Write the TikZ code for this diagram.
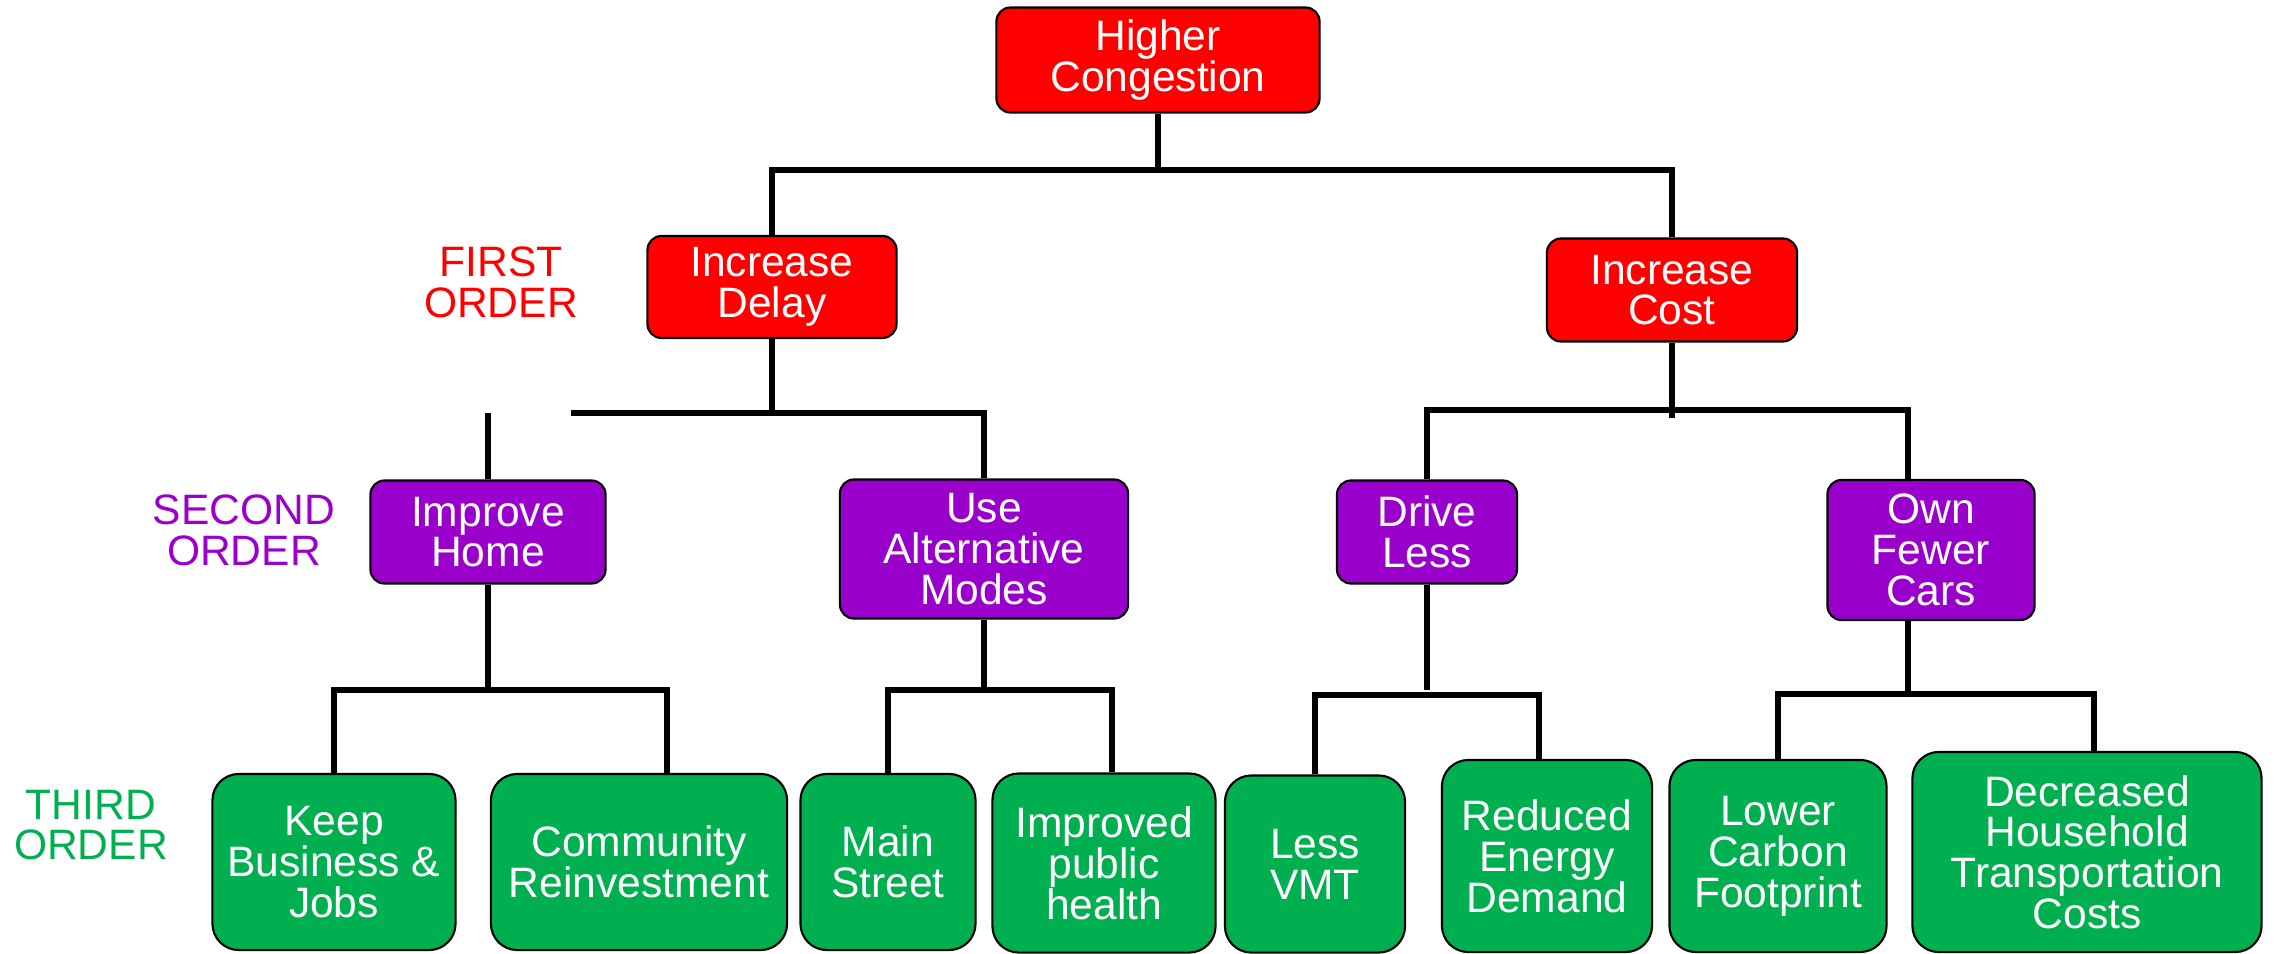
\documentclass[tikz,border=0pt]{standalone}
\usepackage{fontspec}
\setmainfont{Liberation Sans}
\usepackage{tikz}
\definecolor{congred}{RGB}{255, 0, 0}
\definecolor{orderpurple}{RGB}{153, 0, 204}
\definecolor{ordergreen}{RGB}{0, 176, 80}
\tikzstyle{block} = [rectangle, draw, line width=0.6pt, text=white,
    align=center, inner sep=0pt, font=\fontsize{12.1}{11.6}\selectfont]
\tikzstyle{firstblock} = [block, fill=congred, rounded corners=4pt]
\tikzstyle{secondblock} = [block, fill=orderpurple, rounded corners=4pt]
\tikzstyle{thirdblock} = [block, fill=ordergreen, rounded corners=7.5pt]
\tikzstyle{levellabel} = [align=center, font=\fontsize{12.1}{11.6}\selectfont]
\tikzstyle{line} = [draw, line width=1.7pt]

\begin{document}
\begin{tikzpicture}[x=0.01cm, y=-0.01cm]
  \useasboundingbox (0,0) rectangle (2274,954);
  % top and first order
  \node [firstblock, minimum width=3.23cm, minimum height=1.05cm] (congestion) at (1158,60) {Higher\\Congestion};
  \node [levellabel, text=congred] (firstorder) at (501,282) {FIRST\\ORDER};
  \node [firstblock, minimum width=2.49cm, minimum height=1.02cm] (delay) at (772,287) {Increase\\Delay};
  \node [firstblock, minimum width=2.5cm, minimum height=1.03cm] (cost) at (1672,290) {Increase\\Cost};
  \coordinate (topbus) at (0,170);
  \path [line] (congestion.south) -- (congestion.south |- topbus);
  \path [line] (delay.north) -- (delay.north |- topbus) -- (cost.north |- topbus) -- (cost.north);
  % second order
  \node [levellabel, text=orderpurple] (secondorder) at (244,530) {SECOND\\ORDER};
  \node [secondblock, minimum width=2.35cm, minimum height=1.03cm] (home) at (488,532) {Improve\\Home};
  \node [secondblock, minimum width=2.88cm, minimum height=1.39cm] (modes) at (984,549) {Use\\Alternative\\Modes};
  \node [secondblock, minimum width=1.8cm, minimum height=1.03cm] (drive) at (1427,532) {Drive\\Less};
  \node [secondblock, minimum width=2.07cm, minimum height=1.4cm] (fewer) at (1931,550) {Own\\Fewer\\Cars};
  \coordinate (delaybus) at (571,413);
  \path [line] (delay.south) -- ++(0,77);
  \path [line] (delaybus) -- (modes.north |- delaybus) -- (modes.north);
  \path [line] (home.north) -- (home.north |- delaybus);
  \coordinate (costbus) at (0,410);
  \coordinate (fewertop) at ([xshift=-0.23cm]fewer.north);
  \path [line] (cost.south) -- ++(0,75);
  \path [line] (drive.north) |- (fewertop |- costbus) -- (fewertop);
  % third order
  \node [levellabel, text=ordergreen] (thirdorder) at (91,825) {THIRD\\ORDER};
  \node [thirdblock, minimum width=2.43cm, minimum height=1.76cm] (keep) at (334,862) {Keep\\Business \&\\Jobs};
  \node [thirdblock, minimum width=2.96cm, minimum height=1.76cm] (community) at (639,862) {Community\\Reinvestment};
  \node [thirdblock, minimum width=1.75cm, minimum height=1.76cm] (mainst) at (888,862) {Main\\Street};
  \node [thirdblock, minimum width=2.23cm, minimum height=1.79cm] (health) at (1104,863) {Improved\\public\\health};
  \node [thirdblock, minimum width=1.8cm, minimum height=1.77cm] (vmt) at (1315,864) {Less\\VMT};
  \node [thirdblock, minimum width=2.1cm, minimum height=1.92cm] (energy) at (1547,856) {Reduced\\Energy\\Demand};
  \node [thirdblock, minimum width=2.17cm, minimum height=1.92cm] (carbon) at (1778,856) {Lower\\Carbon\\Footprint};
  \node [thirdblock, minimum width=3.49cm, minimum height=2cm] (household) at (2087,852) {Decreased\\Household\\Transportation\\Costs};
  \coordinate (homebus) at (667,690);
  \path [line] (home.south) -- (home.south |- homebus);
  \path [line] (keep.north) |- (homebus) -- (homebus |- community.north);
  \coordinate (modesbus) at (1112,690);
  \path [line] (modes.south) -- (modes.south |- modesbus);
  \path [line] (mainst.north) |- (modesbus) -- (modesbus |- health.north);
  \coordinate (drivebus) at (1539,695);
  \path [line] (drive.south) -- ++(0,105);
  \path [line] (vmt.north) |- (drivebus) -- (drivebus |- energy.north);
  \coordinate (fewerbus) at (2094,694);
  \path [line] (fewertop |- fewer.south) -- (fewertop |- fewerbus);
  \path [line] (carbon.north) |- (fewerbus) -- (fewerbus |- household.north);
\end{tikzpicture}
\end{document}
